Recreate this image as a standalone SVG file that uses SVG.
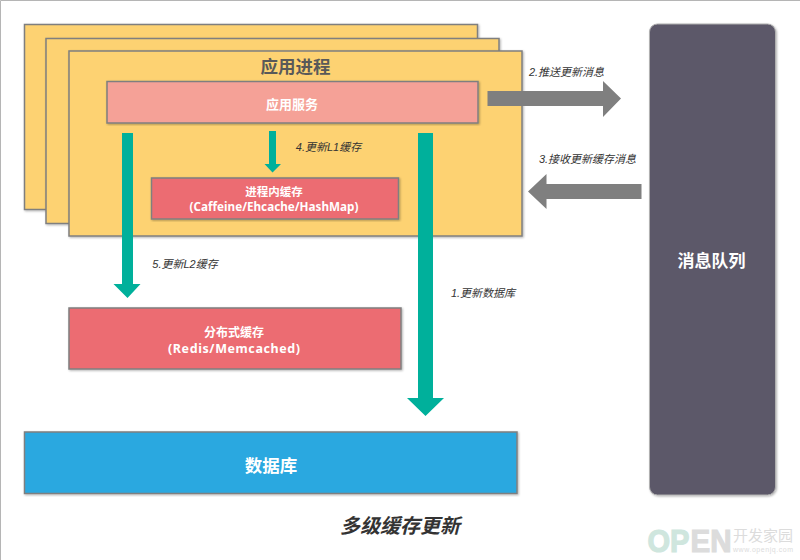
<svg xmlns="http://www.w3.org/2000/svg" width="800" height="560" viewBox="0 0 800 560">
<style>
text{font-family:"Noto Sans","Liberation Sans","Noto Sans CJK SC",sans-serif;text-anchor:middle}
.box{stroke:#7f7f7f;stroke-width:1.5;filter:url(#sh)}
.y{fill:#fdd272}.r{fill:#ec6c72}
.w{fill:#fff;font-weight:bold}
.lab{fill:#333;font-style:italic;font-size:11px;font-family:"Liberation Sans","Noto Sans CJK SC",sans-serif}
.g{fill:#00b09b}.k{fill:#7f7f7f}
.wm{text-anchor:start;font-family:"Liberation Sans","Noto Sans CJK SC",sans-serif}
</style>
<defs><filter id="sh" x="-5%" y="-5%" width="110%" height="110%"><feDropShadow dx="1" dy="1" stdDeviation="0.8" flood-color="#000" flood-opacity="0.3"/></filter></defs>
<rect width="800" height="560" fill="#fff"/>
<path d="M0.5 560V0.5H800" fill="none" stroke="#b5b5b5" stroke-width="1"/>
<g id="proc-back"><rect class="box y" x="24.500" y="24.500" width="453" height="185"/></g>
<g id="proc-mid"><rect class="box y" x="46" y="38.500" width="453" height="185"/></g>
<g id="proc-front"><rect class="box y" x="69" y="51" width="453" height="185"/>
<text x="295.500" y="73" font-size="17.500" font-weight="bold" fill="#595959">应用进程</text></g>
<g id="service"><rect class="box" fill="#f5a197" x="107" y="81.500" width="371" height="41.500"/>
<text class="w" x="292" y="109" font-size="13">应用服务</text></g>
<g id="local-cache"><rect class="box r" x="151.500" y="178" width="247" height="41"/>
<text class="w" x="274" y="196" font-size="11.500">进程内缓存</text>
<text class="w" x="274" y="211" font-size="11.700">(Caffeine/Ehcache/HashMap)</text></g>
<g id="dist-cache"><rect class="box r" x="69" y="308" width="332" height="61"/>
<text class="w" x="234" y="336.500" font-size="12">分布式缓存</text>
<text class="w" x="234" y="353" font-size="12.500" textLength="132" lengthAdjust="spacing">(Redis/Memcached)</text></g>
<g id="db"><rect class="box" fill="#2ba8e0" x="24.500" y="432" width="492.500" height="61.500"/>
<text class="w" x="271" y="472" font-size="17.500">数据库</text></g>
<g id="mq"><rect fill="#5c5869" stroke="#b0b0b0" stroke-width="1" filter="url(#sh)" x="649.500" y="24" width="126" height="471" rx="8"/>
<text class="w" x="711.500" y="267" font-size="17">消息队列</text></g>
<g id="connectors">
<polygon class="g" points="122,133 133,133 133,284 140.500,284 127.500,298 113.500,284 122,284"/>
<polygon class="g" points="269,131 276,131 276,164 281,164 272.500,172.500 264.500,164 269,164"/>
<polygon class="g" points="418,133 433,133 433,398 444,398 425.500,416 407,398 418,398"/>
<polygon class="k" points="487.500,91 603,91 603,81 621,98.500 603,117 603,106 487.500,106"/>
<polygon class="k" points="641.500,184 546.500,184 546.500,174 528,191.500 546.500,209 546.500,199 641.500,199"/>
<text class="lab" x="328.500" y="151">4.更新L1缓存</text>
<text class="lab" x="185" y="268">5.更新L2缓存</text>
<text class="lab" x="483" y="297">1.更新数据库</text>
<text class="lab" x="566.500" y="76">2.推送更新消息</text>
<text class="lab" x="587.500" y="163">3.接收更新缓存消息</text>
</g>
<text x="400" y="533" font-size="20" font-weight="bold" font-style="italic" fill="#333">多级缓存更新</text>
<g id="watermark">
<text class="wm" x="647.500" y="552" font-size="31" font-weight="bold" fill="#cfe6de" stroke="#cfe6de" stroke-width="1.200" textLength="42" lengthAdjust="spacingAndGlyphs">OP</text>
<text class="wm" x="690.500" y="552" font-size="31" font-weight="bold" fill="#dcdcdc" stroke="#dcdcdc" stroke-width="1.200" textLength="41" lengthAdjust="spacingAndGlyphs">EN</text>
<text class="wm" x="733" y="541" font-size="15" fill="#dcdcdc">开发家园</text>
<text class="wm" x="733" y="552" font-size="7" fill="#dcdcdc" textLength="60" lengthAdjust="spacing">www.openjq.com</text>
</g>
</svg>
